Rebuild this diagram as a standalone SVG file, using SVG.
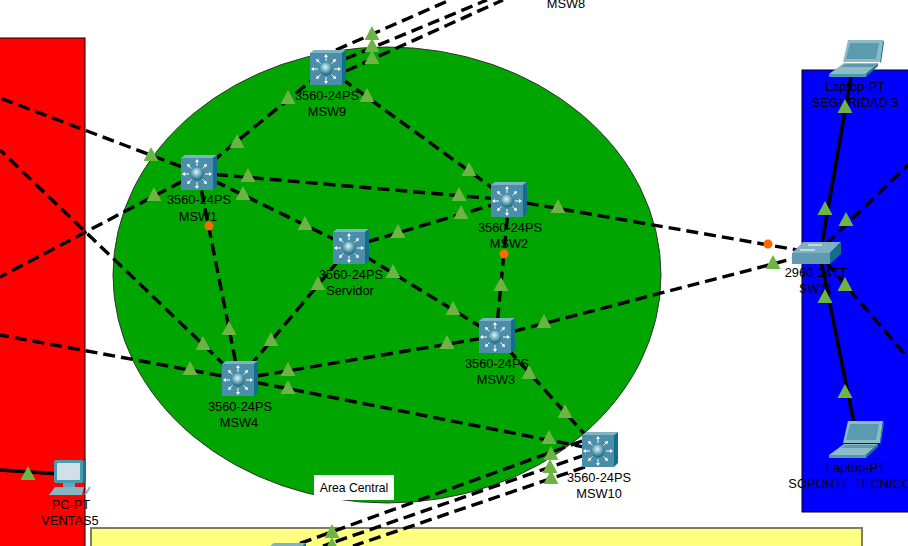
<svg xmlns="http://www.w3.org/2000/svg" width="908" height="546" viewBox="0 0 908 546">
<style>
text{font-family:"Liberation Sans",Arial,sans-serif;font-size:12.8px;fill:#000;text-anchor:middle}
.d{stroke:#000;stroke-width:3.4;stroke-dasharray:12 6;fill:none}
.s{stroke:#000;stroke-width:3.6;fill:none}
.t{fill:#6cb545}
.o{fill:#ff6a00}
</style>
<defs>
<radialGradient id="ball" cx="0.45" cy="0.35" r="0.7"><stop offset="0" stop-color="#e4f3f6"/><stop offset="0.55" stop-color="#5aa0b4"/><stop offset="1" stop-color="#134f66"/></radialGradient>
<g id="msw">
<rect x="0" y="3" width="32" height="32" fill="#4a8ea9"/>
<path d="M0 3L4 0H36L32 3Z" fill="#7fb3c4"/>
<path d="M32 3L36 0V31L32 35Z" fill="#116e8c"/>
<path d="M16 11V6M16 27V32M8 19H3M24 19H29M10.500 13.500L7 10M21.500 13.500L25 10M10.500 24.500L7 28M21.500 24.500L25 28" stroke="#fff" stroke-width="1" fill="none"/>
<path fill="#fff" d="M16 4l2 3h-4zM16 34l2-3h-4zM1 19l3-2v4zM31 19l-3-2v4zM6 9l3.500 .8l-2.700 2.700zM26 9l-3.500 .8l2.700 2.700zM6 29l3.500-.8l-2.700-2.700zM26 29l-3.500-.8l2.700-2.700z"/>
<circle cx="16" cy="19" r="6.5" fill="url(#ball)"/>
</g>
<g id="laptop">
<path d="M19 0H54L51 22H14Z" fill="#8dbcc9"/>
<path d="M54 0L55 2L52 23L51 22Z" fill="#15788f"/>
<path d="M21 3H50L47 19H17Z" fill="#5b9bb0"/>
<path d="M15 23H49L37 34H0Z" fill="#8dbcc9"/>
<path d="M37 34L49 23V26L37 37Z" fill="#15788f"/>
<path d="M0 34H37V37H0Z" fill="#4a9ab0"/>
<path d="M16 24H47L44 27H12Z" fill="#5e98aa"/>
</g>
</defs>
<rect x="-2" y="38" width="87" height="510" fill="#ff0000" stroke="#000"/>
<rect x="802" y="70" width="110" height="442" fill="#0000ff" stroke="#000"/>
<rect x="91" y="528" width="771" height="20" fill="#ffff80" stroke="#7f7f60" stroke-width="2"/>
<ellipse cx="387" cy="275" rx="274" ry="228" fill="#00a500" stroke="#333" stroke-width="1"/>
<g id="area-label"><rect x="314" y="475" width="80" height="25" fill="#fff"/><text x="354" y="492" style="font-size:12.200px">Area Central</text></g>
<g id="connectors">
<path class="d" d="M198 173L327 68"/>
<path class="d" d="M327 68L509 200"/>
<path class="d" d="M198 173L509 200"/>
<path class="d" d="M198 173L350 247"/>
<path class="d" d="M350 247L509 200"/>
<path class="d" d="M350 247L496 336"/>
<path class="d" d="M350 247L239 379"/>
<path class="d" d="M198 173L239 379"/>
<path class="d" d="M509 200L496 336"/>
<path class="d" d="M239 379L496 336"/>
<path class="d" d="M239 379L599 450"/>
<path class="d" d="M496 336L599 450"/>
<path class="d" d="M509 200L815 253"/>
<path class="d" d="M496 336L815 253"/>
<path class="d" d="M198 173L0 98"/>
<path class="d" d="M198 173L0 277"/>
<path class="d" d="M239 379L0 150"/>
<path class="d" d="M239 379L0 335"/>
<path class="d" d="M336 50L450 0"/>
<path class="d" d="M345 59L487 0"/>
<path class="d" d="M346 71L503 0"/>
<path class="d" d="M582 441L293 546"/>
<path class="d" d="M585 455L323 546"/>
<path class="d" d="M585 467L353 546"/>
<path class="s" d="M820 255L853 65"/>
<path class="s" d="M820 255L855 428"/>
<path class="d" d="M826 244L908 165"/>
<path class="d" d="M826 262L908 358"/>
<path class="s" d="M0 470L60 474"/>
</g>
<g id="MSW9"><use href="#msw" x="310" y="50"/><text x="327" y="100">3560-24PS</text><text x="327" y="116">MSW9</text></g>
<g id="MSW1"><use href="#msw" x="181" y="155"/><text x="199" y="204">3560-24PS</text><text x="198" y="221">MSW1</text></g>
<g id="Servidor"><use href="#msw" x="333" y="229"/><text x="351" y="279">3560-24PS</text><text x="350" y="295">Servidor</text></g>
<g id="MSW2"><use href="#msw" x="491" y="182"/><text x="510" y="232">3560-24PS</text><text x="509" y="248">MSW2</text></g>
<g id="MSW3"><use href="#msw" x="479" y="318"/><text x="497" y="368">3560-24PS</text><text x="496" y="384">MSW3</text></g>
<g id="MSW4"><use href="#msw" x="222" y="361"/><text x="240" y="411">3560-24PS</text><text x="239" y="427">MSW4</text></g>
<g id="MSW10"><use href="#msw" x="582" y="432"/><text x="599" y="482">3560-24PS</text><text x="599" y="498">MSW10</text></g>
<g id="MSW8"><text x="566" y="8">MSW8</text></g>
<g id="bottom-switch"><use href="#msw" x="270" y="543"/></g>
<g id="SW1">
<path d="M792 253L803 242H841L830 253Z" fill="#7fb0c2"/>
<rect x="792" y="253" width="38" height="11" fill="#5f9bb0"/>
<path d="M830 253L841 242V254L830 264Z" fill="#117088"/>
<path d="M808 245H822M800 250H815" stroke="#fff" stroke-width="1"/>
<text x="816" y="277">2960-24TT</text><text x="816" y="293">SW11</text>
</g>
<g id="SEGURIDAD3"><use href="#laptop" x="829" y="40"/><text x="855" y="91">Laptop-PT</text><text x="855" y="107">SEGURIDAD 3</text></g>
<g id="SOPORTE"><use href="#laptop" x="829" y="421"/><text x="856" y="472">Laptop-PT</text><text x="850" y="488">SOPORTE TECNICO</text></g>
<g id="VENTAS5">
<rect x="54" y="460" width="29" height="23" rx="2" fill="#4a9ab0"/>
<rect x="57" y="463" width="23" height="17" rx="1" fill="#cfe0e8"/>
<path d="M83 461L86 459V482L83 484Z" fill="#15788f"/>
<rect x="63" y="483" width="12" height="4" fill="#6aa5b6"/>
<path d="M55 487H84L82 495H49Z" fill="#86b6c4"/>
<path d="M85 495L90 487" stroke="#86b6c4" fill="none" stroke-width="2"/>
<text x="71" y="509">PC-PT</text><text x="70" y="525">VENTAS5</text>
</g>
<g id="link-lights">
<path id="tri" class="t" d="M237 134l7.500 14h-15zM288 90l7.500 14h-15zM367 88l7.500 14h-15zM469 162l7.500 14h-15zM248 168l7.500 14h-15zM459 187l7.500 14h-15zM243 186l7.500 14h-15zM305 216l7.500 14h-15zM398 224l7.500 14h-15zM461 205l7.500 14h-15zM393 264l7.500 14h-15zM453 301l7.500 14h-15zM318 276l7.500 14h-15zM271 332l7.500 14h-15zM229 321l7.500 14h-15zM501 277l7.500 14h-15zM288 362l7.500 14h-15zM447 335l7.500 14h-15zM288 380l7.500 14h-15zM549 430l7.500 14h-15zM529 365l7.500 14h-15zM565 404l7.500 14h-15zM558 199l7.500 14h-15zM544 314l7.500 14h-15zM773 255l7.500 14h-15zM151 147l7.500 14h-15zM154 187l7.500 14h-15zM203 336l7.500 14h-15zM190 361l7.500 14h-15zM372 26l7.500 14h-15zM372 38l7.500 14h-15zM372 50l7.500 14h-15zM551 446l7.500 14h-15zM550 459l7.500 14h-15zM551 470l7.500 14h-15zM332 524l7.500 14h-15zM332 537l7.500 14h-15zM845 99l7.500 14h-15zM825 201l7.500 14h-15zM846 212l7.500 14h-15zM845 277l7.500 14h-15zM825 289l7.500 14h-15zM845 384l7.500 14h-15zM28 466l7.500 14h-15z"/>
<circle class="o" cx="209" cy="226" r="4.500"/><circle class="o" cx="504" cy="254" r="4.500"/><circle class="o" cx="768" cy="244" r="4.500"/>
</g>
</svg>
